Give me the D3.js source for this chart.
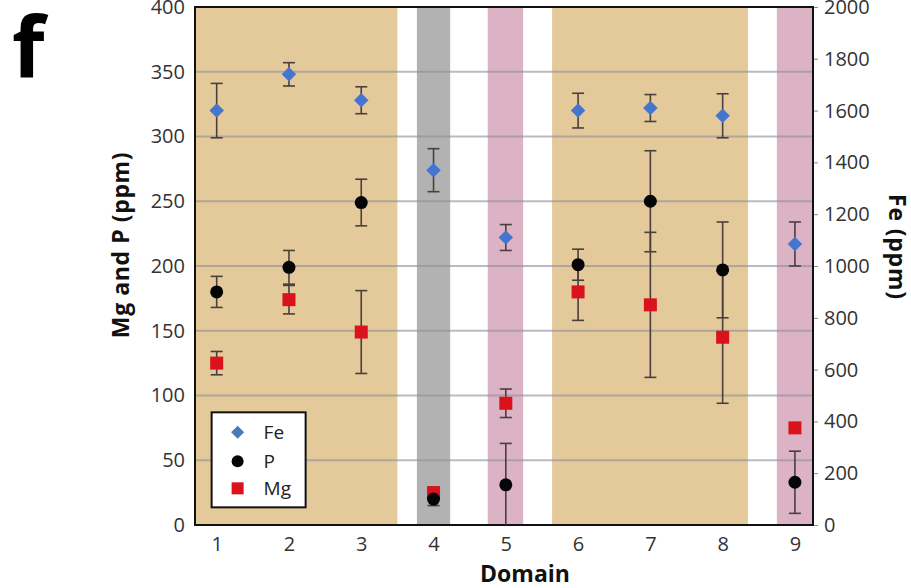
<!DOCTYPE html>
<html>
<head>
<meta charset="utf-8">
<script src="https://cdn.jsdelivr.net/npm/d3@7"></script>
<style>
  body { margin: 0; background: #fff; }
  svg text { font-family: "Open Sans", sans-serif; }
  .tick text { fill: #333; font-size: 20px; }
  .axis-title { font-weight: 700; font-size: 23px; fill: #111; }
</style>
</head>
<body>
<svg width="911" height="588"></svg>
<script>
// domains (x positions) and measured values
const domains = [1, 2, 3, 4, 5, 6, 7, 8, 9];
const feMean = [1600, 1740, 1640, 1370, 1110, 1600, 1610, 1580, 1085];
const feErr  = [105, 45, 52, 83, 50, 67, 52, 85, 85];
const pMean  = [180, 199, 249, 20, 31, 201, 250, 197, 33];
const pErr   = [12, 13, 18, 5, 32, 12, 39, 37, 24];
const mgMean = [125, 174, 149, 25, 94, 180, 170, 145, 75];
const mgErr  = [9, 11, 32, 4, 11, 22, 56, 51, 3];

// shaded domain groups
const bandStart = [0.7, 3.77, 4.75, 5.64, 8.75];
const bandEnd   = [3.5, 4.23, 5.24, 8.35, 9.25];
const bandKind  = ['tan', 'gray', 'pink', 'tan', 'pink'];

const leftTicks  = [0, 50, 100, 150, 200, 250, 300, 350, 400];
const rightTicks = [0, 200, 400, 600, 800, 1000, 1200, 1400, 1600, 1800, 2000];
const seriesNames = ['Fe', 'P', 'Mg'];

const bandColor = { tan: '#e4c99b', gray: '#b3b2b3', pink: '#dcb3c4' };

const svg = d3.select('svg');
const margin = { top: 7, right: 98, bottom: 63, left: 195 };
const width = +svg.attr('width');
const height = +svg.attr('height');
const innerWidth = width - margin.left - margin.right;
const innerHeight = height - margin.top - margin.bottom;

const xScale = d3.scaleLinear().domain([0.7, 9.25]).range([0, innerWidth]);
const yScale = d3.scaleLinear().domain([0, 400]).range([innerHeight, 0]);
const yFe = d3.scaleLinear().domain([0, 2000]).range([innerHeight, 0]);

const g = svg.append('g').attr('transform', `translate(${margin.left},${margin.top})`);

// bands
g.selectAll('rect.band').data(bandStart.map((s, i) => ({ s, e: bandEnd[i], k: bandKind[i] })))
  .enter().append('rect')
  .attr('class', 'band')
  .attr('x', d => xScale(d.s))
  .attr('width', d => xScale(d.e) - xScale(d.s))
  .attr('y', 0)
  .attr('height', innerHeight)
  .attr('fill', d => bandColor[d.k]);

// grid
g.selectAll('line.grid').data(leftTicks.filter(t => t > 0 && t < 400))
  .enter().append('line')
  .attr('x1', 0).attr('x2', innerWidth)
  .attr('y1', d => yScale(d)).attr('y2', d => yScale(d))
  .attr('stroke', '#8e8c9c')
  .attr('stroke-opacity', 0.6)
  .attr('stroke-width', 2);

// axes
const yAxisG = g.append('g')
  .call(d3.axisLeft(yScale).tickValues(leftTicks).tickSize(0).tickPadding(10));
yAxisG.select('.domain').remove();

const yRightG = g.append('g')
  .attr('transform', `translate(${innerWidth},0)`)
  .call(d3.axisRight(yFe).tickValues(rightTicks).tickFormat(d3.format('d')).tickSize(5).tickPadding(6));
yRightG.select('.domain').remove();
yRightG.selectAll('.tick line').attr('stroke', '#888');

const xAxisG = g.append('g')
  .attr('transform', `translate(0,${innerHeight})`)
  .call(d3.axisBottom(xScale).tickValues(domains).tickSize(0).tickPadding(12));
xAxisG.select('.domain').remove();

// frame
g.append('rect')
  .attr('width', innerWidth).attr('height', innerHeight)
  .attr('fill', 'none').attr('stroke', '#111').attr('stroke-width', 2);

// error bars
const capW = 6;
const errColor = '#4a3f3f';
function errorBars(means, errs, scale) {
  const rows = domains.map((d, i) => ({ d, m: means[i], e: errs[i] }));
  const eg = g.append('g').attr('stroke', errColor).attr('stroke-width', 1.6);
  rows.forEach(r => {
    const x = xScale(r.d);
    const y1 = scale(Math.max(0, r.m - r.e));
    const y2 = scale(r.m + r.e);
    eg.append('line').attr('x1', x).attr('x2', x).attr('y1', y1).attr('y2', y2);
    eg.append('line').attr('x1', x - capW).attr('x2', x + capW).attr('y1', y2).attr('y2', y2);
    if (r.m - r.e > 0)
      eg.append('line').attr('x1', x - capW).attr('x2', x + capW).attr('y1', y1).attr('y2', y1);
  });
}
errorBars(feMean, feErr, yFe);
errorBars(mgMean, mgErr, yScale);
errorBars(pMean, pErr, yScale);

const diamond = d3.symbol().type(d3.symbolSquare).size(105);
g.selectAll('path.fe').data(domains)
  .enter().append('path')
  .attr('d', diamond)
  .attr('transform', (d, i) => `translate(${xScale(d)},${yFe(feMean[i])}) rotate(45)`)
  .attr('fill', '#4476d0');

g.selectAll('rect.mg').data(domains)
  .enter().append('rect')
  .attr('x', d => xScale(d) - 6.5)
  .attr('y', (d, i) => yScale(mgMean[i]) - 6.5)
  .attr('width', 13).attr('height', 13)
  .attr('fill', '#d9121c');

g.selectAll('circle.p').data(domains)
  .enter().append('circle')
  .attr('cx', d => xScale(d))
  .attr('cy', (d, i) => yScale(pMean[i]))
  .attr('r', 6.5)
  .attr('fill', '#050505');

// legend
const lg = g.append('g').attr('transform', `translate(${xScale(0.93)},${yScale(87)})`);
lg.append('rect').attr('width', 94).attr('height', 95)
  .attr('fill', '#fff').attr('stroke', '#111').attr('stroke-width', 2);
const legY = [20, 49, 76];
seriesNames.forEach((name, i) => {
  const row = lg.append('g').attr('transform', `translate(26,${legY[i]})`);
  if (name === 'Fe') row.append('path').attr('d', d3.symbol().type(d3.symbolSquare).size(85)).attr('transform', 'rotate(45)').attr('fill', '#4a7ab8');
  if (name === 'P') row.append('circle').attr('r', 6).attr('fill', '#050505');
  if (name === 'Mg') row.append('rect').attr('x', -6).attr('y', -6).attr('width', 12).attr('height', 12).attr('fill', '#d9121c');
  row.append('text').attr('x', 26).attr('dy', '0.35em')
    .attr('font-size', 19).attr('fill', '#222').text(name);
});

// titles
svg.append('text').attr('class', 'axis-title')
  .attr('transform', 'translate(129,245) rotate(-90)')
  .attr('text-anchor', 'middle').attr('letter-spacing', 0.6).text('Mg and P (ppm)');

svg.append('text').attr('class', 'axis-title')
  .attr('transform', 'translate(889,247) rotate(90)')
  .attr('text-anchor', 'middle').attr('letter-spacing', 0.8).text('Fe (ppm)');

svg.append('text').attr('class', 'axis-title')
  .attr('x', 525).attr('y', 582)
  .attr('text-anchor', 'middle').text('Domain');

svg.append('text')
  .attr('x', 12).attr('y', 77)
  .attr('font-family', '"Liberation Sans", Arial, sans-serif')
  .attr('font-weight', 700).attr('font-size', 84)
  .text('f');
</script>
</body>
</html>
